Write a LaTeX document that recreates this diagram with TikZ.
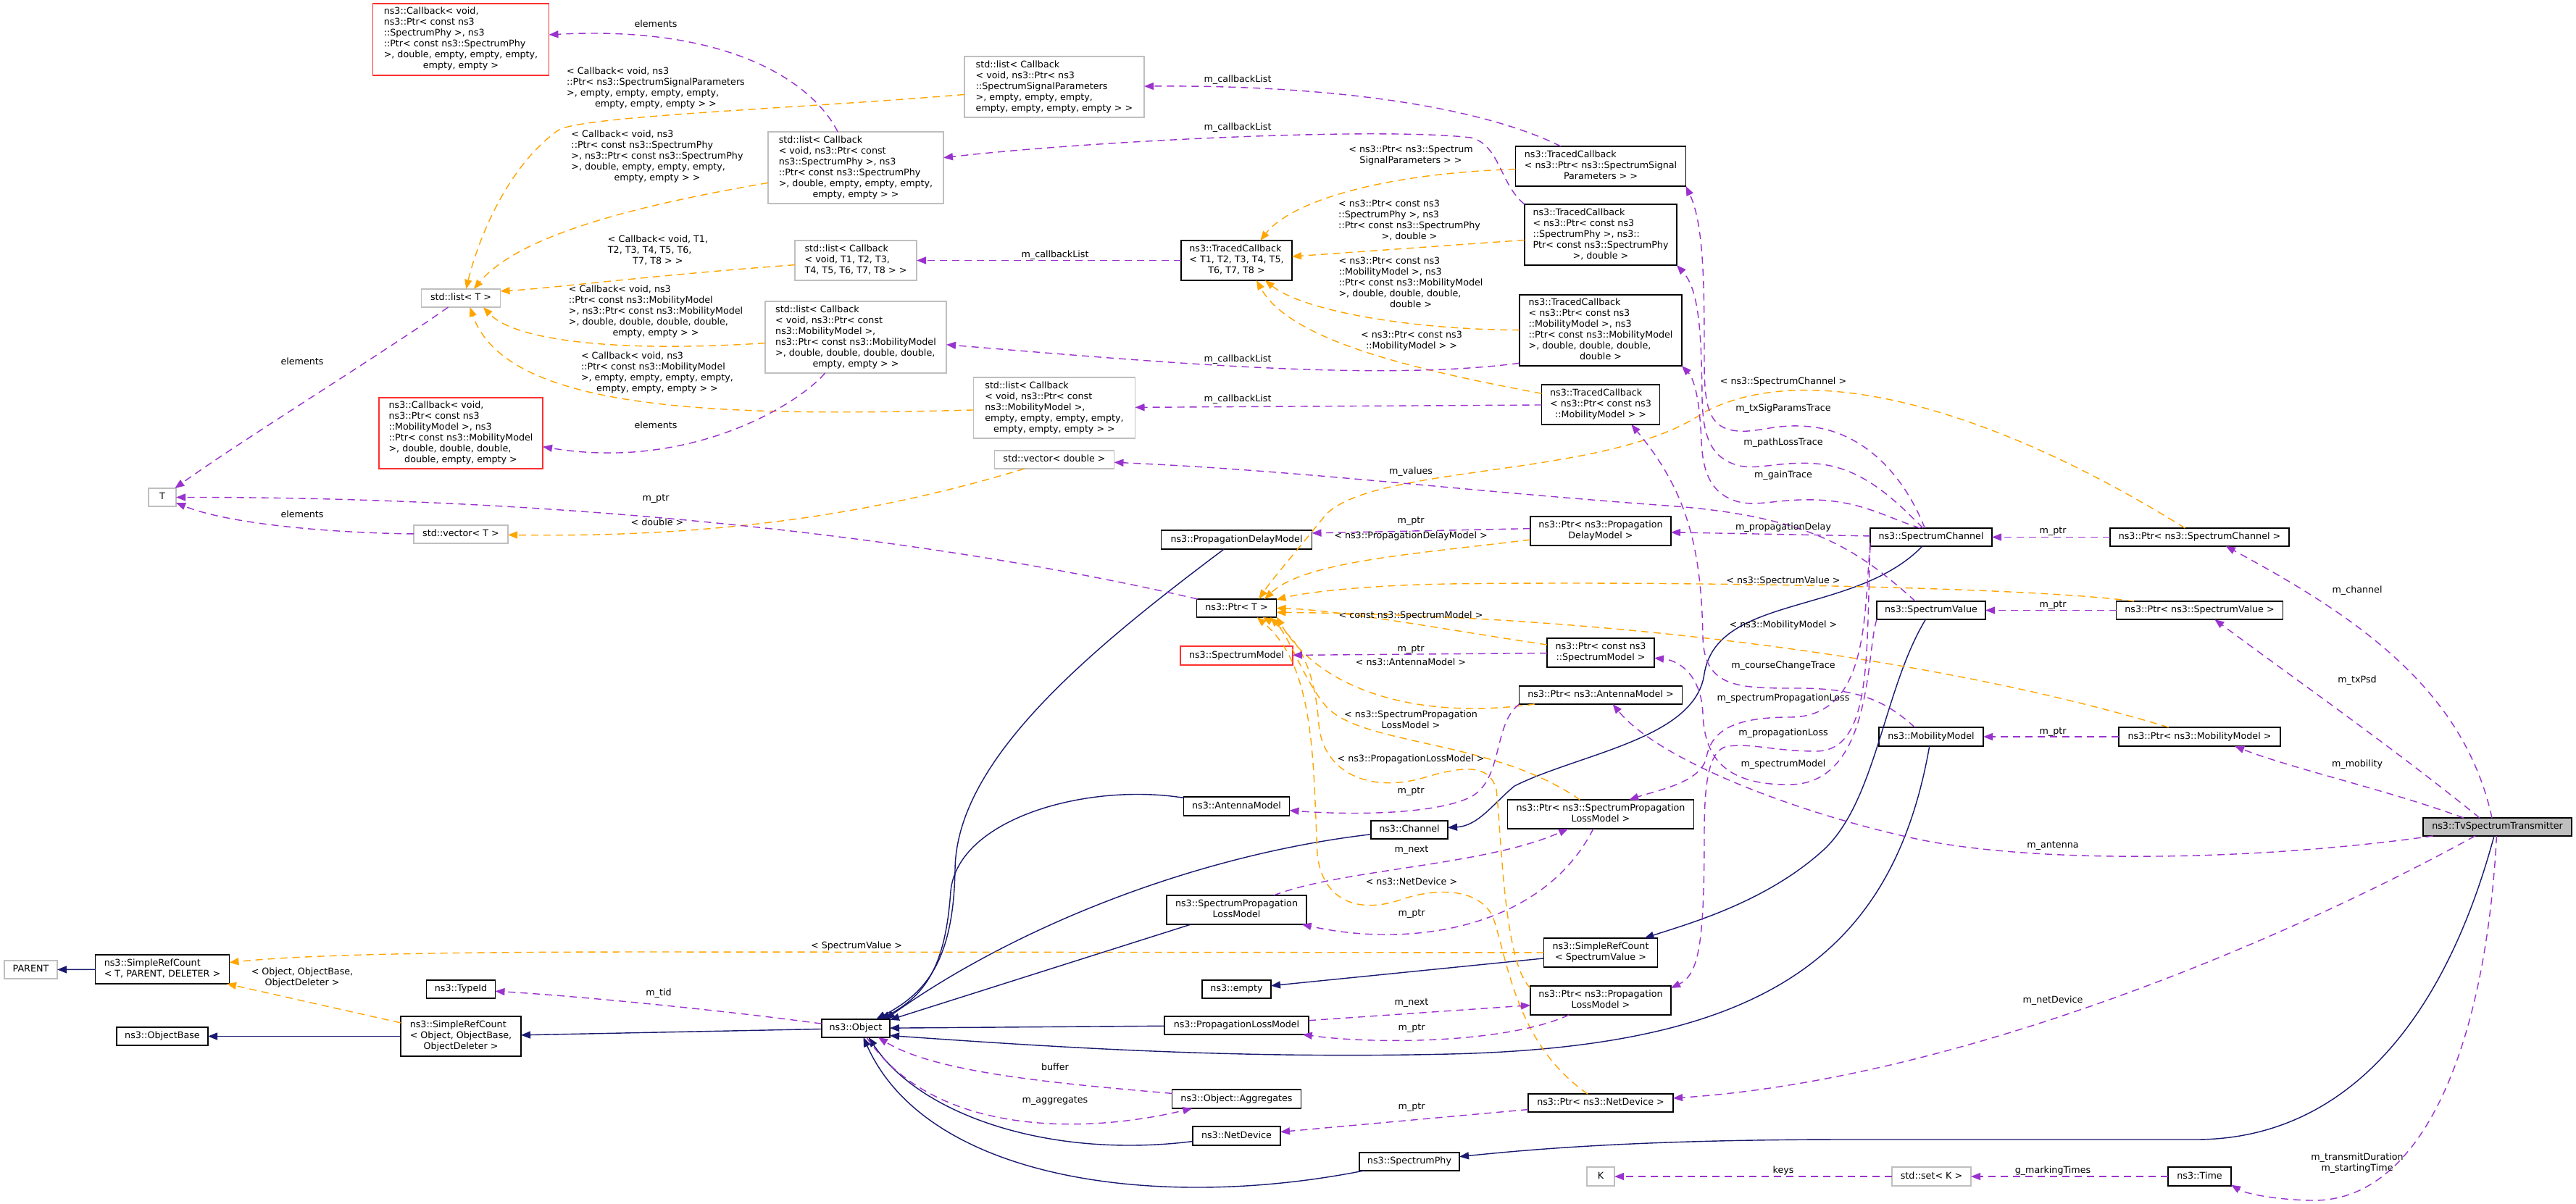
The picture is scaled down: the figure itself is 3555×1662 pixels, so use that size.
\documentclass[tikz,border=0pt]{standalone}
\usepackage{fontspec}
\setmainfont{DejaVu Sans}
\usetikzlibrary{arrows.meta}
\definecolor{epurple}{HTML}{9A32CD}
\definecolor{eorange}{HTML}{FFA500}
\definecolor{enavy}{HTML}{191970}
\definecolor{bgray}{HTML}{BFBFBF}
\definecolor{bred}{HTML}{FF3030}
\newcommand{\dfont}{\fontsize{12.7}{15}\selectfont}
\newcommand{\dxl}[1]{\begin{tabular}{@{}l@{}}#1\end{tabular}}
\newcommand{\dxc}[1]{\multicolumn{1}{@{}c@{}}{#1}}
\newcommand{\dxcc}[1]{\begin{tabular}{@{}c@{}}#1\end{tabular}}
\tikzset{
 sz/.style 2 args={minimum width=#1pt, minimum height=#2pt},
 nb/.style={draw=black, line width=1.5pt, inner sep=0pt, outer sep=0pt, font=\dfont},
 ng/.style={nb, draw=bgray},
 nr/.style={nb, draw=bred},
 one/.style={text height=10.5pt, text depth=4.5pt},
 lab/.style={inner sep=0pt, font=\dfont},
 mem/.style={draw=epurple, line width=1.4pt, dash pattern=on 10pt off 7pt, -{Triangle[length=13pt,width=10pt]}},
 tmpl/.style={draw=eorange, line width=1.4pt, dash pattern=on 10pt off 7pt, -{Triangle[length=13pt,width=10pt]}},
 inh/.style={draw=enavy, line width=1.4pt, -{Triangle[length=13pt,width=10pt]}}
}
\begin{document}
\begin{tikzpicture}[x=1pt,y=-1pt]
\useasboundingbox (0,0) rectangle (3555,1662);
\fill[white] (0,0) rectangle (3555,1662);

% ---------------- nodes ----------------
\node[nr, sz={243}{99}] (cbsp) at (636,54.5) {\dxl{ns3::Callback< void,\\ ns3::Ptr< const ns3\\::SpectrumPhy >, ns3\\::Ptr< const ns3::SpectrumPhy\\ >, double, empty, empty, empty,\\\dxc{empty, empty >}}};
\node[ng, one, sz={109}{25}] (listT) at (636,411.5) {std::list< T >};
\node[nr, sz={226}{98}] (cbmm) at (636,598) {\dxl{ns3::Callback< void,\\ ns3::Ptr< const ns3\\::MobilityModel >, ns3\\::Ptr< const ns3::MobilityModel\\ >, double, double, double,\\\dxc{double, empty, empty >}}};
\node[ng, one, sz={38}{25}] (nT) at (224,686.5) {T};
\node[ng, one, sz={130}{25}] (vecT) at (636,737.5) {std::vector< T >};
\node[ng, one, sz={73}{25}] (parent) at (42.5,1338.5) {PARENT};
\node[nb, sz={185}{40}] (srcT) at (224,1338) {\dxl{ns3::SimpleRefCount\\\dxc{< T, PARENT, DELETER >}}};
\node[nb, one, sz={126}{25}] (objbase) at (224,1430.5) {ns3::ObjectBase};
\node[nb, sz={166}{55}] (srcObj) at (636,1430.5) {\dxl{ns3::SimpleRefCount\\< Object, ObjectBase,\\\dxc{ObjectDeleter >}}};
\node[nb, one, sz={95}{25}] (typeid) at (636,1365.5) {ns3::TypeId};
\node[nb, one, sz={94}{25}] (object) at (1181,1419.5) {ns3::Object};

\node[ng, sz={248}{84}] (lssp) at (1455,120) {\dxl{std::list< Callback\\< void, ns3::Ptr< ns3\\::SpectrumSignalParameters\\ >, empty, empty, empty,\\\dxc{empty, empty, empty, empty > >}}};
\node[ng, sz={242}{99}] (lsp) at (1181,231.5) {\dxl{std::list< Callback\\< void, ns3::Ptr< const\\ ns3::SpectrumPhy >, ns3\\::Ptr< const ns3::SpectrumPhy\\ >, double, empty, empty, empty,\\\dxc{empty, empty > >}}};
\node[ng, sz={168}{55}] (lt) at (1181,359.5) {\dxl{std::list< Callback\\< void, T1, T2, T3,\\\dxc{T4, T5, T6, T7, T8 > >}}};
\node[ng, sz={250}{99}] (lmmd) at (1181,465.5) {\dxl{std::list< Callback\\< void, ns3::Ptr< const\\ ns3::MobilityModel >,\\ns3::Ptr< const ns3::MobilityModel\\>, double, double, double, double,\\\dxc{empty, empty > >}}};
\node[ng, sz={223}{84}] (lmme) at (1455,563) {\dxl{std::list< Callback\\< void, ns3::Ptr< const\\ ns3::MobilityModel >,\\empty, empty, empty, empty,\\\dxc{empty, empty, empty > >}}};
\node[ng, one, sz={165}{25}] (vecd) at (1455,634.5) {std::vector< double >};

\node[nb, sz={153}{55}] (tct) at (1706.5,359.5) {\dxl{ns3::TracedCallback\\< T1, T2, T3, T4, T5,\\\dxc{T6, T7, T8 >}}};
\node[nb, one, sz={208}{26}] (pdm) at (1706.5,745) {ns3::PropagationDelayModel};
\node[nb, one, sz={110}{25}] (ptrT) at (1706.5,839.5) {ns3::Ptr< T >};
\node[nr, one, sz={155}{26}] (sm) at (1706.5,905) {ns3::SpectrumModel};
\node[nb, one, sz={146}{26}] (am) at (1706.5,1113) {ns3::AntennaModel};
\node[nb, sz={193}{40}] (splm) at (1706.5,1256) {\dxl{ns3::SpectrumPropagation\\\dxc{LossModel}}};
\node[nb, one, sz={95}{25}] (empty) at (1706.5,1365.5) {ns3::empty};
\node[nb, one, sz={199}{25}] (plm) at (1706.5,1415.5) {ns3::PropagationLossModel};
\node[nb, one, sz={178}{26}] (aggr) at (1706.5,1517) {ns3::Object::Aggregates};
\node[nb, one, sz={121}{26}] (netdev) at (1706.5,1568) {ns3::NetDevice};
\node[nb, one, sz={106}{25}] (channel) at (1945,1145.5) {ns3::Channel};
\node[nb, one, sz={138}{25}] (sphy) at (1945,1603.5) {ns3::SpectrumPhy};

\node[nb, sz={235}{55}] (tcssp) at (2209,229.5) {\dxl{ns3::TracedCallback\\< ns3::Ptr< ns3::SpectrumSignal\\\dxc{Parameters > >}}};
\node[nb, sz={210}{84}] (tcsp) at (2209,324) {\dxl{ns3::TracedCallback\\< ns3::Ptr< const ns3\\::SpectrumPhy >, ns3::\\Ptr< const ns3::SpectrumPhy\\\dxc{>, double >}}};
\node[nb, sz={224}{98}] (tcmmd) at (2209,456) {\dxl{ns3::TracedCallback\\< ns3::Ptr< const ns3\\::MobilityModel >, ns3\\::Ptr< const ns3::MobilityModel\\ >, double, double, double,\\\dxc{double >}}};
\node[nb, sz={163}{55}] (tcmm) at (2209,558.5) {\dxl{ns3::TracedCallback\\< ns3::Ptr< const ns3\\\dxc{::MobilityModel > >}}};
\node[nb, sz={194}{40}] (ppdm) at (2209,733) {\dxl{ns3::Ptr< ns3::Propagation\\\dxc{DelayModel >}}};
\node[nb, sz={148}{40}] (pcsm) at (2209,901) {\dxl{ns3::Ptr< const ns3\\\dxc{::SpectrumModel >}}};
\node[nb, one, sz={225}{25}] (pam) at (2209,959.5) {ns3::Ptr< ns3::AntennaModel >};
\node[nb, sz={257}{40}] (psplm) at (2209,1124) {\dxl{ns3::Ptr< ns3::SpectrumPropagation\\\dxc{LossModel >}}};
\node[nb, sz={157}{40}] (srcsv) at (2209,1315) {\dxl{ns3::SimpleRefCount\\\dxc{< SpectrumValue >}}};
\node[nb, sz={194}{40}] (pplm) at (2209,1381) {\dxl{ns3::Ptr< ns3::Propagation\\\dxc{LossModel >}}};
\node[nb, one, sz={200}{25}] (pnd) at (2209,1522.5) {ns3::Ptr< ns3::NetDevice >};
\node[ng, one, sz={38}{26}] (nK) at (2209,1624) {K};

\node[nb, one, sz={168}{25}] (sc) at (2665,741.5) {ns3::SpectrumChannel};
\node[nb, one, sz={150}{25}] (sv) at (2665,842.5) {ns3::SpectrumValue};
\node[nb, one, sz={144}{26}] (mm) at (2665,1017) {ns3::MobilityModel};
\node[ng, one, sz={109}{26}] (setK) at (2665.5,1624) {std::set< K >};
\node[nb, one, sz={247}{25}] (psc) at (3035.5,741.5) {ns3::Ptr< ns3::SpectrumChannel >};
\node[nb, one, sz={230}{25}] (psv) at (3035.5,842.5) {ns3::Ptr< ns3::SpectrumValue >};
\node[nb, one, sz={223}{26}] (pmm) at (3035.5,1017) {ns3::Ptr< ns3::MobilityModel >};
\node[nb, one, sz={87}{26}] (time) at (3035.5,1624) {ns3::Time};
\node[nb, one, fill=bgray, sz={205}{25}] (tvst) at (3446.5,1141.5) {ns3::TvSpectrumTransmitter};

% ---------------- inheritance ----------------
\draw[inh] (srcT) -- (parent);
\draw[inh] (srcObj) -- (objbase);
\draw[inh] (object) -- (srcObj);
\draw[inh] (pdm) .. controls (1500,900) and (1320,1050) .. (1318,1200) .. controls (1316,1330) and (1275,1372) .. (object.24);
\draw[inh] (am) .. controls (1500,1080) and (1322,1130) .. (1312,1230) .. controls (1305,1330) and (1280,1372) .. (object.20);
\draw[inh] (channel) .. controls (1650,1180) and (1400,1280) .. (object.17);
\draw[inh] (splm) -- (object.14);
\draw[inh] (plm) -- (object);
\draw[inh] (mm) .. controls (2610,1330) and (2420,1445) .. (2000,1455) .. controls (1700,1462) and (1450,1445) .. (object.-12);
\draw[inh] (netdev) .. controls (1450,1600) and (1270,1540) .. (object.-35);
\draw[inh] (sphy) .. controls (1600,1672) and (1280,1630) .. (object.-50);
\draw[inh] (sc) .. controls (2560,850) and (2370,820) .. (2352,930) .. controls (2340,1020) and (2180,1040) .. (2090,1085) .. controls (2060,1110) and (2040,1140) .. (channel);
\draw[inh] (sv) .. controls (2600,950) and (2590,1100) .. (2520,1170) .. controls (2440,1245) and (2330,1275) .. (srcsv);
\draw[inh] (srcsv) -- (empty);
\draw[inh] (tvst.250) .. controls (3370,1420) and (3230,1573) .. (3030,1573) -- (2550,1573) .. controls (2250,1573) and (2100,1588) .. (sphy);

% ---------------- template instances ----------------
\draw[tmpl] (srcObj) -- (srcT);
\draw[tmpl] (srcsv) -- (900,1314) .. controls (600,1314) and (420,1318) .. (srcT);
\draw[tmpl] (ppdm) .. controls (1950,765) and (1800,775) .. (ptrT.18);
\draw[tmpl] (psc) .. controls (2760,570) and (2500,490) .. (2350,570) .. controls (2220,660) and (1900,640) .. (1830,710) .. controls (1790,760) and (1755,800) .. (ptrT.22);
\draw[tmpl] (psv) .. controls (2800,810) and (2300,802) .. (2000,806) .. controls (1880,808) and (1800,818) .. (ptrT.12);
\draw[tmpl] (pcsm) .. controls (2000,870) and (1850,842) .. (ptrT.0);
\draw[tmpl] (pmm) .. controls (2700,915) and (2250,850) .. (ptrT.-6);
\draw[tmpl] (pam) .. controls (1950,995) and (1820,950) .. (ptrT.-12);
\draw[tmpl] (psplm) .. controls (2060,1020) and (1880,1030) .. (1830,975) .. controls (1800,940) and (1780,880) .. (ptrT.-15);
\draw[tmpl] (pplm.170) .. controls (2075,1330) and (2072,1150) .. (2065,1090) .. controls (2055,1050) and (2010,1060) .. (1960,1075) .. controls (1880,1095) and (1825,1060) .. (1820,1000) .. controls (1815,930) and (1795,880) .. (ptrT.-19);
\draw[tmpl] (pnd) .. controls (2090,1440) and (2080,1320) .. (2060,1265) .. controls (2040,1225) and (1980,1225) .. (1930,1243) .. controls (1870,1262) and (1825,1240) .. (1818,1180) .. controls (1812,1050) and (1815,920) .. (ptrT.-24);
\draw[tmpl] (tcssp) .. controls (1900,240) and (1780,280) .. (tct.40);
\draw[tmpl] (tcsp) -- (tct);
\draw[tmpl] (tcmmd) .. controls (1950,455) and (1800,430) .. (tct.-35);
\draw[tmpl] (tcmm) .. controls (1950,510) and (1780,470) .. (tct.-45);
\draw[tmpl] (lssp) .. controls (1100,150) and (800,160) .. (770,180) .. controls (700,230) and (660,330) .. (listT.60);
\draw[tmpl] (lsp) .. controls (900,280) and (720,320) .. (listT.35);
\draw[tmpl] (lt) .. controls (900,380) and (760,398) .. (listT.10);
\draw[tmpl] (lmmd) .. controls (850,487) and (710,470) .. (listT.-22);
\draw[tmpl] (lmme) .. controls (1000,575) and (700,570) .. (listT.-45);
\draw[tmpl] (vecd) .. controls (1200,712) and (980,742) .. (vecT);

% ---------------- members ----------------
\draw[mem] (lsp) .. controls (1120,110) and (1000,35) .. (cbsp);
\draw[mem] (listT) .. controls (540,480) and (330,610) .. (nT);
\draw[mem] (vecT) .. controls (470,736) and (320,725) .. (nT);
\draw[mem] (ptrT) .. controls (1300,745) and (800,686) .. (nT);
\draw[mem] (lmmd) .. controls (1100,560) and (950,650) .. (cbmm);
\draw[mem] (sv.150) .. controls (2565,760) and (2500,712) .. (2300,698) .. controls (2000,676) and (1800,650) .. (vecd);
\draw[mem] (tcssp) .. controls (2050,150) and (1850,117) .. (lssp);
\draw[mem] (tcsp.north west) .. controls (2070,255) and (2070,200) .. (2030,190) .. controls (1900,175) and (1500,195) .. (lsp);
\draw[mem] (tct) -- (lt);
\draw[mem] (tcmmd.202) .. controls (1900,527) and (1600,500) .. (lmmd);
\draw[mem] (tcmm) -- (lmme);
\draw[mem] (sc) -- (ppdm);
\draw[mem] (sc.125) .. controls (2625,650) and (2570,600) .. (2506,590) .. controls (2450,582) and (2425,600) .. (2391,594) .. controls (2358,588) and (2352,560) .. (2352,500) .. controls (2352,400) and (2352,310) .. (tcssp.south east);
\draw[mem] (sc.132) .. controls (2615,690) and (2570,645) .. (2506,640) .. controls (2450,636) and (2420,652) .. (2391,640) .. controls (2360,628) and (2350,600) .. (2349,550) .. controls (2348,460) and (2345,400) .. (tcsp.south east);
\draw[mem] (sc.140) .. controls (2605,715) and (2570,692) .. (2506,690) .. controls (2450,688) and (2420,702) .. (2391,690) .. controls (2360,678) and (2350,650) .. (2348,610) .. controls (2346,560) and (2340,525) .. (tcmmd.south east);
\draw[mem] (mm.150) .. controls (2600,965) and (2560,950) .. (2480,950) .. controls (2400,950) and (2352,950) .. (2350,880) .. controls (2348,760) and (2330,680) .. (tcmm.-33);
\draw[mem] (sv.south west) .. controls (2575,900) and (2585,1082) .. (2470,1083) .. controls (2375,1084) and (2352,1040) .. (2350,985) .. controls (2348,935) and (2320,912) .. (pcsm);
\draw[mem] (sc.-175) .. controls (2572,850) and (2580,990) .. (2470,990) .. controls (2390,990) and (2362,1010) .. (2355,1045) .. controls (2348,1080) and (2290,1090) .. (psplm.27);
\draw[mem] (sc.-172) .. controls (2575,900) and (2585,1037) .. (2506,1037) .. controls (2450,1037) and (2420,1026) .. (2385,1030) .. controls (2358,1034) and (2352,1080) .. (2352,1150) .. controls (2352,1300) and (2345,1345) .. (pplm.10);
\draw[mem] (ppdm.178) -- (pdm.5);
\draw[mem] (pcsm) -- (sm);
\draw[mem] (pam.south west) .. controls (2060,1000) and (2075,1075) .. (2030,1100) .. controls (1980,1125) and (1860,1125) .. (am);
\draw[mem] (psplm) .. controls (2130,1280) and (1950,1310) .. (splm);
\draw[mem] (splm) .. controls (1850,1200) and (2050,1195) .. (psplm);
\draw[mem] (plm) -- (pplm);
\draw[mem] (pplm) .. controls (2080,1440) and (1900,1442) .. (plm);
\draw[mem] (pnd) -- (netdev);
\draw[mem] (object) .. controls (1000,1395) and (800,1375) .. (typeid);
\draw[mem] (aggr) .. controls (1450,1495) and (1290,1480) .. (object.-22);
\draw[mem] (object.-40) .. controls (1290,1570) and (1500,1565) .. (aggr.192);
\draw[mem] (setK) -- (nK);
\draw[mem] (time) -- (setK);
\draw[mem] (psc) -- (sc);
\draw[mem] (psv) -- (sv);
\draw[mem] (pmm) -- (mm);
\draw[mem] (tvst.121) .. controls (3400,950) and (3250,850) .. (psc.-19);
\draw[mem] (tvst.153) .. controls (3300,1030) and (3150,925) .. (psv.-31);
\draw[mem] (tvst.165) .. controls (3300,1092) and (3160,1060) .. (pmm.-15);
\draw[mem] (tvst.188) .. controls (3100,1190) and (2800,1192) .. (2640,1157) .. controls (2480,1122) and (2290,1050) .. (pam.-37);
\draw[mem] (tvst.202) .. controls (3150,1300) and (2700,1490) .. (pnd);
\draw[mem] (tvst.265) .. controls (3430,1450) and (3340,1660) .. (3190,1657) .. controls (3140,1656) and (3100,1648) .. (time.-15);

% ---------------- labels ----------------
\node[lab, one] (la1) at (905,35) {elements};
\node[lab, one] (la2) at (417,500) {elements};
\node[lab, one] (la3) at (905,588) {elements};
\node[lab, one] (la4) at (417,711) {elements};
\node[lab, one] (la5) at (905,688) {m\_ptr};
\node[lab, one] (la6) at (907,722) {< double >};
\node[lab] (lc1) at (905,121.5) {\dxl{< Callback< void, ns3\\::Ptr< ns3::SpectrumSignalParameters\\>, empty, empty, empty, empty,\\\dxc{empty, empty, empty > >}}};
\node[lab] (lc2) at (907,216) {\dxl{< Callback< void, ns3\\::Ptr< const ns3::SpectrumPhy\\>, ns3::Ptr< const ns3::SpectrumPhy\\>, double, empty, empty, empty,\\\dxc{empty, empty > >}}};
\node[lab] (lc3) at (908,346) {\dxl{< Callback< void, T1,\\T2, T3, T4, T5, T6,\\\dxc{T7, T8 > >}}};
\node[lab] (lc4) at (905,430) {\dxl{< Callback< void, ns3\\::Ptr< const ns3::MobilityModel\\>, ns3::Ptr< const ns3::MobilityModel\\>, double, double, double, double,\\\dxc{empty, empty > >}}};
\node[lab] (lc5) at (907,515) {\dxl{< Callback< void, ns3\\::Ptr< const ns3::MobilityModel\\>, empty, empty, empty, empty,\\\dxc{empty, empty, empty > >}}};
\node[lab, one] (lb1) at (1708,110) {m\_callbackList};
\node[lab, one] (lb2) at (1708,176) {m\_callbackList};
\node[lab, one] (lb3) at (1456,352) {m\_callbackList};
\node[lab, one] (lb4) at (1708,496) {m\_callbackList};
\node[lab, one] (lb5) at (1708,551) {m\_callbackList};
\node[lab] (lt1) at (1947,215) {\dxl{< ns3::Ptr< ns3::Spectrum\\\dxc{SignalParameters > >}}};
\node[lab] (lt2) at (1945,305) {\dxl{< ns3::Ptr< const ns3\\::SpectrumPhy >, ns3\\::Ptr< const ns3::SpectrumPhy\\\dxc{>, double >}}};
\node[lab] (lt3) at (1947,391) {\dxl{< ns3::Ptr< const ns3\\::MobilityModel >, ns3\\::Ptr< const ns3::MobilityModel\\>, double, double, double,\\\dxc{double >}}};
\node[lab] (lt4) at (1948,471) {\dxl{< ns3::Ptr< const ns3\\\dxc{::MobilityModel > >}}};
\node[lab, one] (ld1) at (2461,527) {< ns3::SpectrumChannel >};
\node[lab, one] (ld2) at (2461,564) {m\_txSigParamsTrace};
\node[lab, one] (ld3) at (2461,611) {m\_pathLossTrace};
\node[lab, one] (ld4) at (2461,656) {m\_gainTrace};
\node[lab, one] (ld5) at (1947,651) {m\_values};
\node[lab, one] (ld6) at (1947,719) {m\_ptr};
\node[lab, one] (ld7) at (1947,740) {< ns3::PropagationDelayModel >};
\node[lab, one] (ld8) at (2461,728) {m\_propagationDelay};
\node[lab, one] (ld9) at (2833,733) {m\_ptr};
\node[lab, one] (ld10) at (2461,802) {< ns3::SpectrumValue >};
\node[lab, one] (ld11) at (2833,835) {m\_ptr};
\node[lab, one] (ld12) at (1947,850) {< const ns3::SpectrumModel >};
\node[lab, one] (ld13) at (2461,863) {< ns3::MobilityModel >};
\node[lab, one] (ld14) at (1947,896) {m\_ptr};
\node[lab, one] (ld15) at (1947,915) {< ns3::AntennaModel >};
\node[lab, one] (ld16) at (2461,919) {m\_courseChangeTrace};
\node[lab, one] (ld17) at (2461,964) {m\_spectrumPropagationLoss};
\node[lab] (ld18) at (1947,995) {\dxl{< ns3::SpectrumPropagation\\\dxc{LossModel >}}};
\node[lab, one] (ld19) at (2461,1012) {m\_propagationLoss};
\node[lab, one] (ld20) at (2833,1010) {m\_ptr};
\node[lab, one] (ld21) at (1947,1048) {< ns3::PropagationLossModel >};
\node[lab, one] (ld22) at (2461,1055) {m\_spectrumModel};
\node[lab, one] (ld23) at (1947,1092) {m\_ptr};
\node[lab, one] (ld24) at (1948,1173) {m\_next};
\node[lab, one] (ld25) at (1948,1218) {< ns3::NetDevice >};
\node[lab, one] (ld26) at (1948,1261) {m\_ptr};
\node[lab, one] (ld27) at (1182,1306) {< SpectrumValue >};
\node[lab] (ld28) at (417,1350) {\dxl{< Object, ObjectBase,\\\dxc{ObjectDeleter >}}};
\node[lab, one] (ld29) at (909,1371) {m\_tid};
\node[lab, one] (ld30) at (1948,1384) {m\_next};
\node[lab, one] (ld31) at (1948,1419) {m\_ptr};
\node[lab, one] (ld32) at (1456,1474) {buffer};
\node[lab, one] (ld33) at (1456,1519) {m\_aggregates};
\node[lab, one] (ld34) at (1948,1528) {m\_ptr};
\node[lab, one] (ld35) at (2461,1616) {keys};
\node[lab, one] (ld36) at (2833,1616) {g\_markingTimes};
\node[lab, one] (ld37) at (3253,815) {m\_channel};
\node[lab, one] (ld38) at (3253,939) {m\_txPsd};
\node[lab, one] (ld39) at (3253,1055) {m\_mobility};
\node[lab, one] (ld40) at (2833,1167) {m\_antenna};
\node[lab, one] (ld41) at (2833,1381) {m\_netDevice};
\node[lab] (ld42) at (3253,1605.5) {\dxcc{m\_transmitDuration\\m\_startingTime}};
\end{tikzpicture}
\end{document}
